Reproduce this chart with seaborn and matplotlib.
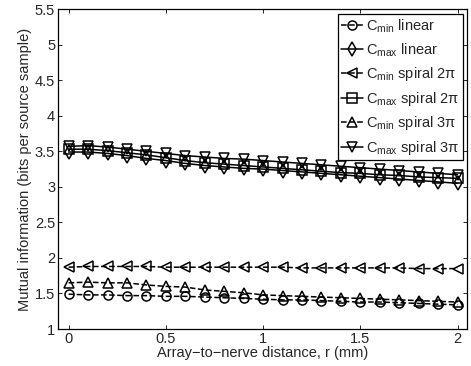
import numpy as np
import pandas as pd
import matplotlib
matplotlib.use('Agg')
import matplotlib.pyplot as plt
import seaborn as sns

# array-to-nerve distance (mm)
r = [0.0, 0.1, 0.2, 0.3, 0.4, 0.5, 0.6, 0.7, 0.8, 0.9, 1.0,
     1.1, 1.2, 1.3, 1.4, 1.5, 1.6, 1.7, 1.8, 1.9, 2.0]

cmin_linear = [1.49, 1.48, 1.48, 1.47, 1.47, 1.46, 1.46, 1.45, 1.44, 1.43, 1.42,
               1.41, 1.41, 1.40, 1.39, 1.38, 1.38, 1.37, 1.36, 1.35, 1.34]
cmax_linear = [3.49, 3.49, 3.47, 3.44, 3.40, 3.37, 3.33, 3.30, 3.28, 3.26, 3.25,
               3.23, 3.21, 3.19, 3.17, 3.15, 3.13, 3.11, 3.09, 3.07, 3.05]
cmin_spiral2 = [1.87, 1.88, 1.88, 1.88, 1.88, 1.87, 1.87, 1.87, 1.87, 1.87, 1.87,
                1.87, 1.86, 1.86, 1.86, 1.86, 1.86, 1.86, 1.85, 1.85, 1.85]
cmax_spiral2 = [3.53, 3.53, 3.51, 3.48, 3.45, 3.41, 3.37, 3.34, 3.32, 3.30, 3.28,
                3.26, 3.24, 3.22, 3.20, 3.19, 3.17, 3.16, 3.14, 3.13, 3.12]
cmin_spiral3 = [1.65, 1.66, 1.65, 1.65, 1.62, 1.60, 1.59, 1.55, 1.53, 1.51, 1.48,
                1.47, 1.46, 1.45, 1.44, 1.43, 1.42, 1.41, 1.40, 1.39, 1.38]
cmax_spiral3 = [3.57, 3.58, 3.56, 3.53, 3.50, 3.47, 3.44, 3.42, 3.40, 3.39, 3.37,
                3.35, 3.33, 3.31, 3.29, 3.27, 3.25, 3.23, 3.21, 3.19, 3.17]

labels = [r'C$_{\mathregular{min}}$ linear',
          r'C$_{\mathregular{max}}$ linear',
          r'C$_{\mathregular{min}}$ spiral 2π',
          r'C$_{\mathregular{max}}$ spiral 2π',
          r'C$_{\mathregular{min}}$ spiral 3π',
          r'C$_{\mathregular{max}}$ spiral 3π']
series = [cmin_linear, cmax_linear, cmin_spiral2, cmax_spiral2, cmin_spiral3, cmax_spiral3]
markers = ['o', 'd', '<', 's', '^', 'v']
styles = ['--', '-', '--', '-', '--', '-']

sns.set_style('ticks')
plt.rcParams['font.family'] = ['Liberation Sans', 'DejaVu Sans']
plt.rcParams['mathtext.fontset'] = 'custom'
plt.rcParams['mathtext.rm'] = 'Liberation Sans'
plt.rcParams['mathtext.it'] = 'Liberation Sans'
plt.rcParams['xtick.direction'] = 'in'
plt.rcParams['ytick.direction'] = 'in'
plt.rcParams['xtick.top'] = True
plt.rcParams['ytick.right'] = True

fs = 10.5
fig = plt.figure(figsize=(4.71, 3.66), dpi=100)
ax = fig.add_axes([0.123, 0.101, 0.869, 0.874])

for vals, lab, m, ls in zip(series, labels, markers, styles):
    df = pd.DataFrame({'r': r, 'mi': vals})
    sns.lineplot(data=df, x='r', y='mi', ax=ax, color='k', linestyle=ls,
                 marker=m, markersize=7 if m == 'd' else 6.5, markerfacecolor='none',
                 markeredgecolor='k', markeredgewidth=1.1, linewidth=1.1, label=lab)

ax.set_xlim(-0.055, 2.05)
ax.set_ylim(1, 5.5)
ax.set_xticks([0, 0.5, 1, 1.5, 2])
ax.set_xticklabels(['0', '0.5', '1', '1.5', '2'])
ax.set_yticks(np.arange(1, 5.51, 0.5))
ax.set_yticklabels(['1', '1.5', '2', '2.5', '3', '3.5', '4', '4.5', '5', '5.5'])
ax.tick_params(labelsize=fs, length=3, width=0.7, pad=2)
for s in ax.spines.values():
    s.set_linewidth(0.9)
    s.set_color('k')

ax.set_xlabel('Array\u2212to\u2212nerve distance, r (mm)', fontsize=fs, labelpad=0)
ax.set_ylabel('Mutual information (bits per source sample)', fontsize=fs, labelpad=2)

leg = ax.legend(loc='upper right', fontsize=fs, frameon=True, fancybox=False,
                edgecolor='k', framealpha=1, borderpad=0.25, labelspacing=0.45,
                handlelength=1.5, handletextpad=0.2, borderaxespad=0.3)
leg.get_frame().set_linewidth(0.9)

fig.savefig('out.png', dpi=100)
